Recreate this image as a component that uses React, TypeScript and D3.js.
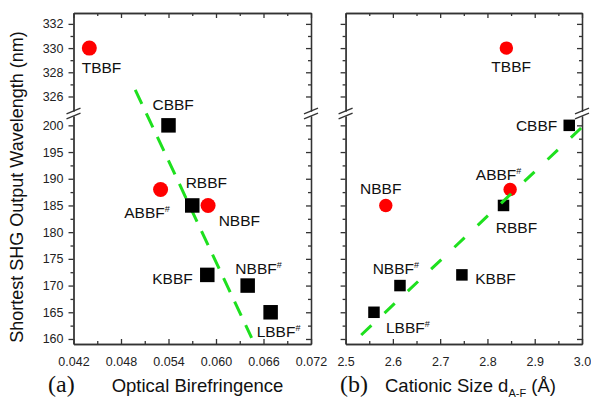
import React, { useEffect, useRef } from 'react';
import * as d3 from 'd3';

// compounds, wavelength and the two x quantities
const compounds = ["TBBF", "CBBF", "ABBF#", "RBBF", "NBBF", "KBBF", "NBBF#", "LBBF#"];
const markerShape = ["circle", "square", "circle", "square", "circle", "square", "square", "square"];
const wavelength = [330, 200, 188, 185, 185, 172, 170, 165];
const birefringence = [0.044, 0.054, 0.053, 0.057, 0.059, 0.0589, 0.064, 0.0669];
const cationSize = [2.84, 2.973, 2.848, 2.834, 2.585, 2.746, 2.615, 2.56];

// dashed guide lines (end points)
const fitAX = [0.0498, 0.0645];
const fitAY = [326.55, 160.2];
const fitBX = [2.533, 3.004];
const fitBY = [160.75, 200];

// ticks
const yLowMajor = [160, 165, 170, 175, 180, 185, 190, 195, 200];
const yLowMinor = [162.5, 167.5, 172.5, 177.5, 182.5, 187.5, 192.5, 197.5];
const yHighMajor = [326, 328, 330, 332];
const yHighMinor = [327, 329, 331];
const xMajorA = [0.042, 0.048, 0.054, 0.060, 0.066, 0.072];
const xMinorA = [0.045, 0.051, 0.057, 0.063, 0.069];
const xMajorB = [2.5, 2.6, 2.7, 2.8, 2.9, 3.0];
const xMinorB = [2.55, 2.65, 2.75, 2.85, 2.95];

// label offsets from marker centre [dx, dy]
const labelOffA = [[-7.6, 24.7], [-16, -15.3], [-36.3, 28.5], [-6.6, -17.3], [10.6, 20.7], [-55, 9], [-12.3, -11.7], [-14, 25]];
const labelOffB = [[-15, 24.4], [-53.3, 5.7], [-34.3, -9], [-7.7, 27.4], [-25.7, -11.3], [13.3, 9], [-27.3, -11.3], [12, 20.4]];

const App = () => {
  const svgRef = useRef<SVGSVGElement>(null);

  useEffect(() => {
    const svg = d3.select(svgRef.current);
    svg.selectAll("*").remove();

    const font = "'Liberation Sans', Arial, sans-serif";
    const axisColor = "#333";
    const top = 13, bottom = 344, breakHi = 111, breakLo = 116;

    // broken y axis: two linear pieces
    const yLow = d3.scaleLinear().domain([159.06, 201.75]).range([bottom, breakLo]);
    const yHigh = d3.scaleLinear().domain([324.8, 332.9]).range([breakHi, top]);
    const yPos = (v: number) => (v > 260 ? yHigh(v) : yLow(v));

    const styleAxis = (g: any) => {
      g.select(".domain").attr("stroke", axisColor).attr("stroke-width", 1.3);
      g.selectAll(".tick line").attr("stroke", axisColor).attr("stroke-width", 1.3);
      g.selectAll(".tick text")
        .attr("fill", "#222")
        .style("font-family", font)
        .style("font-size", "12.5px");
    };

    const panels = [
      {
        x: d3.scaleLinear().domain([0.042, 0.072]).range([73.5, 311]),
        xs: birefringence, major: xMajorA, minor: xMinorA, fmt: d3.format(".3f"),
        fitX: fitAX, fitY: fitAY, dash: "15.5,10.5", lineOnTop: false,
        offs: labelOffA, sq: 14.5, r: 7.5, showY: true,
      },
      {
        x: d3.scaleLinear().domain([2.5, 3.0]).range([345.6, 582]),
        xs: cationSize, major: xMajorB, minor: xMinorB, fmt: d3.format(".1f"),
        fitX: fitBX, fitY: fitBY, dash: "14,18", lineOnTop: true,
        offs: labelOffB, sq: 11.5, r: 6.7, showY: false,
      },
    ];

    panels.forEach(p => {
      const g = svg.append("g");
      const [x0, x1] = p.x.range();
      const noLabel = () => "";

      // left side (outward ticks)
      [[yLow, yLowMajor, yLowMinor], [yHigh, yHighMajor, yHighMinor]].forEach(([sc, maj, min]: any) => {
        g.append("g").attr("transform", `translate(${x0},0)`)
          .call(d3.axisLeft(sc).tickValues(maj).tickSize(5).tickSizeOuter(0).tickPadding(5)
            .tickFormat(p.showY ? d3.format("d") : noLabel))
          .call(styleAxis);
        g.append("g").attr("transform", `translate(${x0},0)`)
          .call(d3.axisLeft(sc).tickValues(min).tickSize(3).tickSizeOuter(0).tickFormat(noLabel))
          .call(styleAxis);
        // right side (inward ticks)
        g.append("g").attr("transform", `translate(${x1},0)`)
          .call(d3.axisLeft(sc).tickValues(maj).tickSize(5).tickSizeOuter(0).tickFormat(noLabel))
          .call(styleAxis);
        g.append("g").attr("transform", `translate(${x1},0)`)
          .call(d3.axisLeft(sc).tickValues(min).tickSize(3).tickSizeOuter(0).tickFormat(noLabel))
          .call(styleAxis);
      });

      // bottom (inward ticks, labels below)
      g.append("g").attr("transform", `translate(0,${bottom})`)
        .call(d3.axisBottom(p.x).tickValues(p.major).tickSize(-5).tickSizeOuter(0).tickPadding(13).tickFormat(p.fmt as any))
        .call(styleAxis);
      g.append("g").attr("transform", `translate(0,${bottom})`)
        .call(d3.axisBottom(p.x).tickValues(p.minor).tickSize(-3).tickSizeOuter(0).tickFormat(noLabel))
        .call(styleAxis);
      // top (inward ticks)
      g.append("g").attr("transform", `translate(0,${top})`)
        .call(d3.axisBottom(p.x).tickValues(p.major).tickSize(5).tickSizeOuter(0).tickFormat(noLabel))
        .call(styleAxis);
      g.append("g").attr("transform", `translate(0,${top})`)
        .call(d3.axisBottom(p.x).tickValues(p.minor).tickSize(3).tickSizeOuter(0).tickFormat(noLabel))
        .call(styleAxis);

      // break marks
      [x0, x1].forEach(bx => {
        [breakHi, breakLo].forEach(by => {
          g.append("line")
            .attr("x1", bx - 7).attr("y1", by + 2.8)
            .attr("x2", bx + 7).attr("y2", by - 2.8)
            .attr("stroke", axisColor).attr("stroke-width", 1.3);
        });
      });

      const drawLine = () => {
        g.append("line")
          .attr("x1", p.x(p.fitX[0])).attr("y1", yPos(p.fitY[0]))
          .attr("x2", p.x(p.fitX[1])).attr("y2", yPos(p.fitY[1]))
          .attr("stroke", "#1ee01e")
          .attr("stroke-width", 3)
          .attr("stroke-dasharray", p.dash);
      };
      if (!p.lineOnTop) drawLine();

      // markers
      compounds.forEach((name, i) => {
        const cx = p.x(p.xs[i]);
        const cy = yPos(wavelength[i]);
        if (markerShape[i] === "circle") {
          g.append("circle").attr("cx", cx).attr("cy", cy).attr("r", p.r).attr("fill", "#ff0000");
        } else {
          g.append("rect")
            .attr("x", cx - p.sq / 2).attr("y", cy - p.sq / 2)
            .attr("width", p.sq).attr("height", p.sq)
            .attr("fill", "#000");
        }
      });

      if (p.lineOnTop) drawLine();

      // labels
      compounds.forEach((name, i) => {
        const cx = p.x(p.xs[i]);
        const cy = yPos(wavelength[i]);
        const t = g.append("text")
          .attr("x", cx + p.offs[i][0])
          .attr("y", cy + p.offs[i][1])
          .attr("fill", "#111")
          .style("font-family", font)
          .style("font-size", "15.5px");
        const base = name.replace("#", "");
        t.append("tspan").text(base);
        if (name.endsWith("#")) {
          t.append("tspan").attr("dy", -6).style("font-size", "9px").text("#");
        }
      });
    });

    // axis titles
    svg.append("text")
      .attr("transform", "translate(23,187) rotate(-90)")
      .attr("text-anchor", "middle")
      .attr("fill", "#111")
      .style("font-family", font)
      .style("font-size", "18px")
      .text("Shortest SHG Output Wavelength (nm)");

    svg.append("text")
      .attr("x", 48).attr("y", 391.5)
      .attr("fill", "#111")
      .style("font-family", "'Liberation Serif', 'Times New Roman', serif")
      .style("font-size", "24px")
      .text("(a)");
    svg.append("text")
      .attr("x", 340).attr("y", 391.5)
      .attr("fill", "#111")
      .style("font-family", "'Liberation Serif', 'Times New Roman', serif")
      .style("font-size", "24px")
      .text("(b)");

    svg.append("text")
      .attr("x", 111.7).attr("y", 392)
      .attr("fill", "#111")
      .style("font-family", font)
      .style("font-size", "18.5px")
      .text("Optical Birefringence");

    const tb = svg.append("text")
      .attr("x", 385).attr("y", 392)
      .attr("fill", "#111")
      .style("font-family", font)
      .style("font-size", "18.5px");
    tb.append("tspan").text("Cationic Size d");
    tb.append("tspan").attr("dy", 5).style("font-size", "11px").text("A-F");
    tb.append("tspan").attr("dy", -5).text(" (Å)");
  }, []);

  return (
    <svg
      ref={svgRef}
      width={591}
      height={399}
      style={{ position: 'absolute', left: 0, top: 0, background: '#fff' }}
    ></svg>
  );
};

export default App;
